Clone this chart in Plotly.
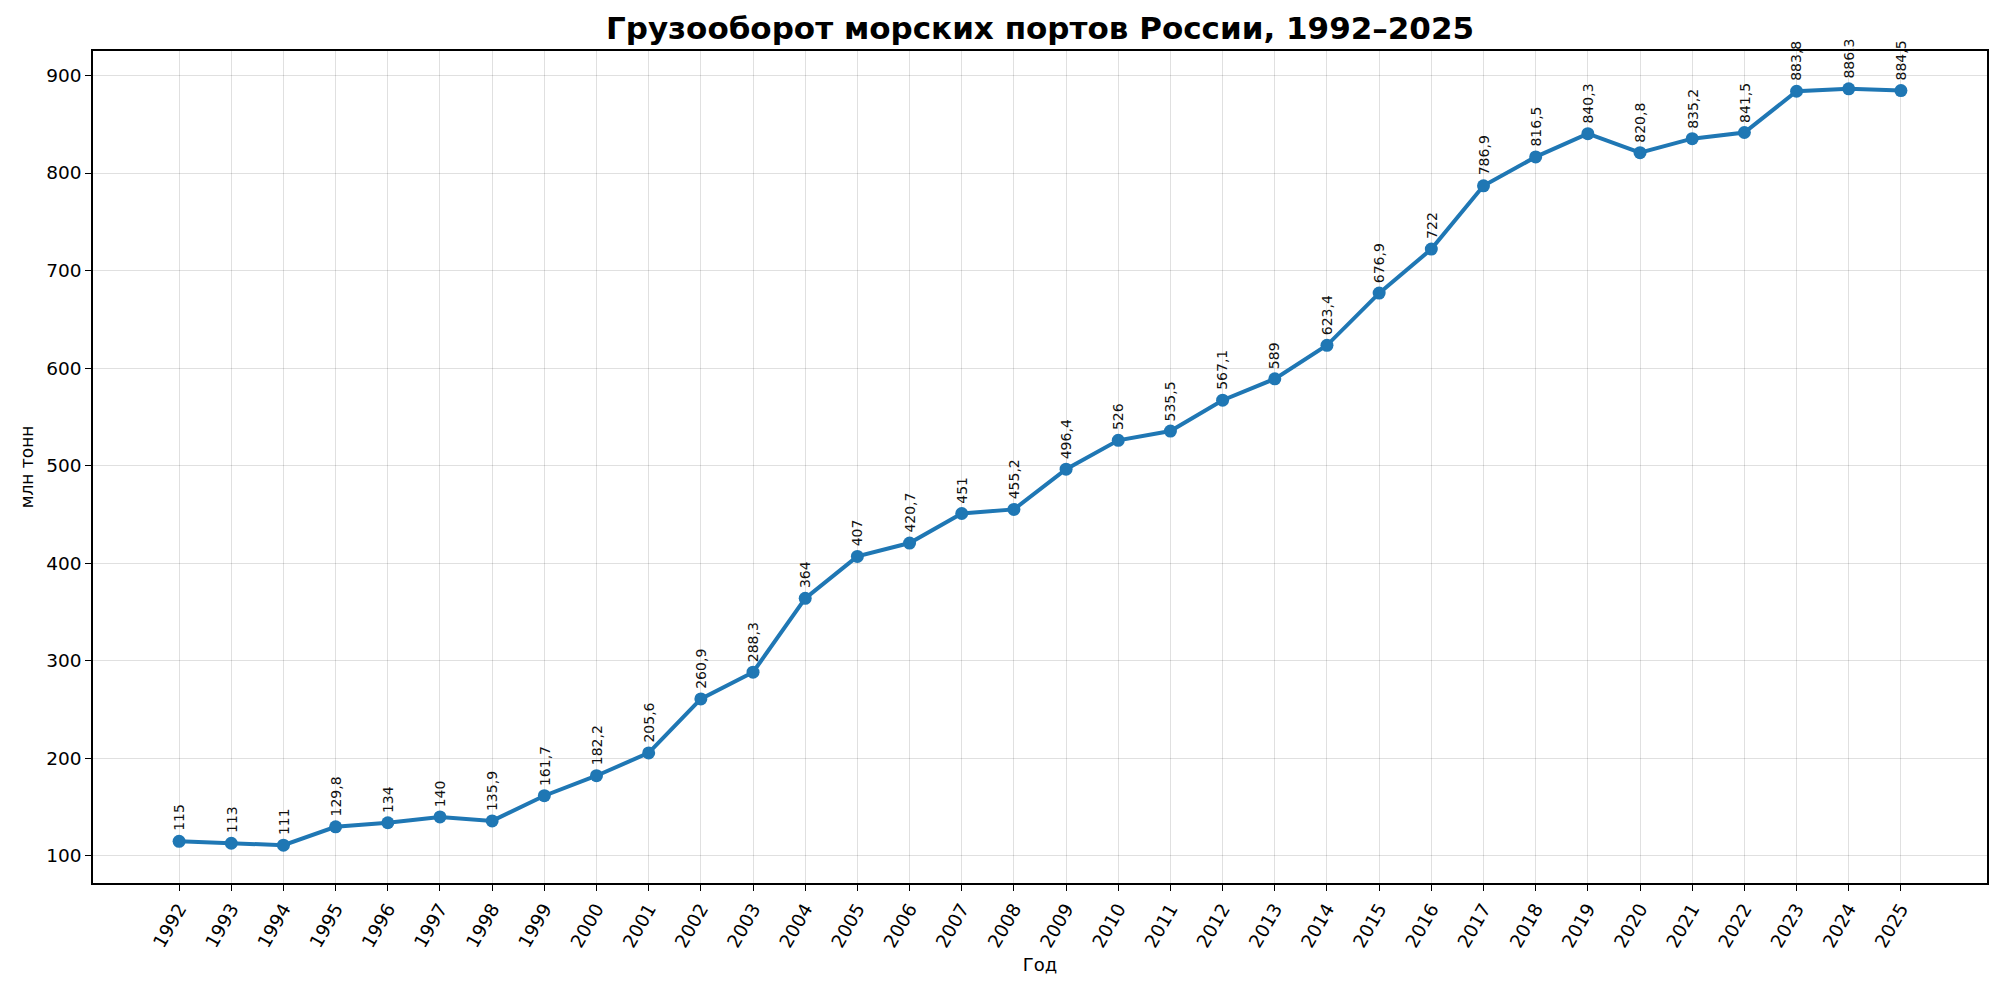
import plotly.graph_objects as go

years = list(range(1992, 2026))
values = [115, 113, 111, 129.8, 134, 140, 135.9, 161.7, 182.2, 205.6,
          260.9, 288.3, 364, 407, 420.7, 451, 455.2, 496.4, 526, 535.5,
          567.1, 589, 623.4, 676.9, 722, 786.9, 816.5, 840.3, 820.8, 835.2,
          841.5, 883.8, 886.3, 884.5]
title_text = "Грузооборот морских портов России, 1992–2025"
x_title = "Год"
y_title = "млн тонн"


def fmt(v):
    s = ("%.1f" % v).rstrip("0").rstrip(".")
    return s.replace(".", ",")


FONT = "DejaVu Sans"
BLUE = "#1f77b4"

fig = go.Figure()
fig.add_trace(go.Scatter(
    x=years, y=values, mode="lines+markers",
    line=dict(color=BLUE, width=4),
    marker=dict(color=BLUE, size=13),
    cliponaxis=False,
    hoverinfo="x+y",
))

annotations = []
for yr, v in zip(years, values):
    annotations.append(dict(
        x=yr, y=v, xref="x", yref="y", text=fmt(v), showarrow=False,
        textangle=-90, xanchor="center", yanchor="bottom", yshift=8,
        font=dict(family=FONT, size=14, color="#111111"),
    ))

xmin, xmax = years[0], years[-1]
xpad = (xmax - xmin) * 0.05
ymin, ymax = min(values), max(values)
ypad = (ymax - ymin) * 0.05

fig.update_layout(
    width=2000, height=992,
    margin=dict(l=93, r=13, t=51, b=109),
    paper_bgcolor="white", plot_bgcolor="white",
    font=dict(family=FONT, color="black"),
    showlegend=False,
    title=dict(text="<b>" + title_text + "</b>", x=0.52, xanchor="center",
               y=0.972, yanchor="middle",
               font=dict(family=FONT, size=31, color="black")),
    annotations=annotations,
    xaxis=dict(
        range=[xmin - xpad, xmax + xpad],
        tickmode="array", tickvals=years, ticktext=[str(y) for y in years],
        tickangle=-60, ticks="outside", ticklen=6, tickwidth=1.3, tickcolor="black",
        tickfont=dict(family=FONT, size=18.5, color="black"),
        showgrid=True, gridcolor="rgba(0,0,0,0.12)", gridwidth=1,
        showline=True, linecolor="black", linewidth=1.6, mirror=True,
        zeroline=False,
        title=dict(text=x_title, standoff=8, font=dict(family=FONT, size=18, color="black")),
    ),
    yaxis=dict(
        range=[ymin - ypad, ymax + ypad],
        tickmode="linear", tick0=100, dtick=100,
        ticks="outside", ticklen=6, tickwidth=1.3, tickcolor="black",
        tickfont=dict(family=FONT, size=18.5, color="black"),
        showgrid=True, gridcolor="rgba(0,0,0,0.12)", gridwidth=1,
        showline=True, linecolor="black", linewidth=1.6, mirror=True,
        zeroline=False,
        title=dict(text=y_title, standoff=8, font=dict(family=FONT, size=17, color="black")),
    ),
)

fig.write_html("out.html")
